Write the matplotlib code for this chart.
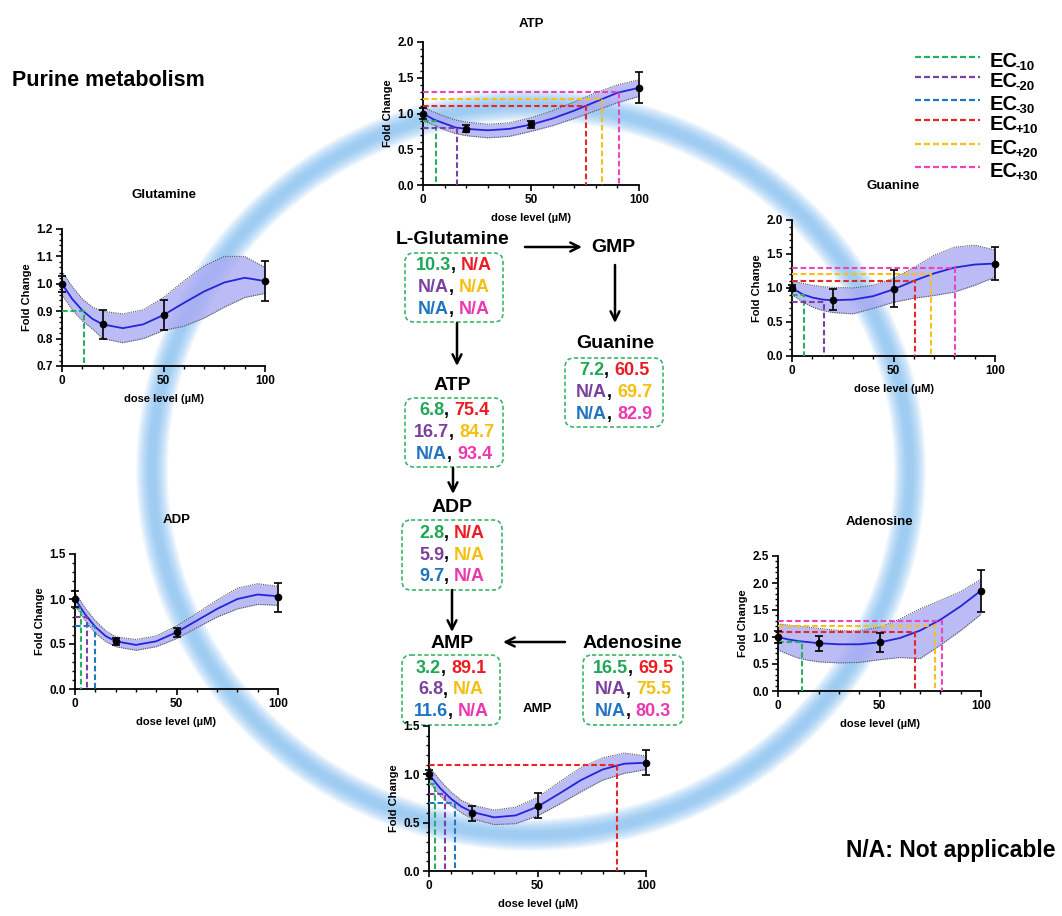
import matplotlib
matplotlib.use("Agg")
import matplotlib.pyplot as plt
from matplotlib.patches import Ellipse, FancyBboxPatch
from matplotlib.offsetbox import TextArea, HPacker, AnnotationBbox
from matplotlib.ticker import MultipleLocator, FormatStrFormatter

plt.rcParams['font.family'] = ['Liberation Sans', 'DejaVu Sans']
plt.rcParams['font.weight'] = 'bold'
plt.rcParams['axes.labelweight'] = 'bold'
plt.rcParams['axes.titleweight'] = 'bold'

# === data ===
dose_points = [0, 20, 50, 100]
dose_grid = [0, 5, 10, 15, 20, 30, 40, 50, 60, 70, 80, 90, 100]

atp_mean = [1.0, 0.786, 0.847, 1.363]
atp_err = [0.08, 0.05, 0.05, 0.22]
atp_fit = [1.0, 0.915, 0.86, 0.805, 0.785, 0.765, 0.785, 0.845, 0.93, 1.04, 1.165, 1.29, 1.36]
atp_lo = [0.90, 0.84, 0.77, 0.72, 0.69, 0.66, 0.68, 0.75, 0.83, 0.93, 1.04, 1.15, 1.24]
atp_hi = [1.09, 1.02, 0.96, 0.91, 0.88, 0.85, 0.87, 0.94, 1.04, 1.16, 1.29, 1.40, 1.47]

glut_mean = [1.0, 0.852, 0.886, 1.01]
glut_err = [0.03, 0.052, 0.055, 0.073]
glut_fit = [1.0, 0.945, 0.903, 0.872, 0.852, 0.838, 0.852, 0.886, 0.93, 0.972, 1.005, 1.022, 1.01]
glut_lo = [0.96, 0.905, 0.865, 0.835, 0.80, 0.785, 0.80, 0.83, 0.845, 0.875, 0.915, 0.95, 0.965]
glut_hi = [1.045, 0.99, 0.945, 0.915, 0.90, 0.89, 0.905, 0.95, 1.01, 1.065, 1.10, 1.10, 1.06]

guan_mean = [1.0, 0.83, 0.99, 1.36]
guan_err = [0.05, 0.15, 0.27, 0.24]
guan_fit = [1.0, 0.91, 0.86, 0.83, 0.82, 0.83, 0.88, 0.98, 1.105, 1.215, 1.30, 1.345, 1.36]
guan_lo = [0.90, 0.80, 0.72, 0.67, 0.64, 0.62, 0.70, 0.79, 0.85, 0.89, 0.94, 1.04, 1.16]
guan_hi = [1.10, 1.07, 1.04, 1.02, 1.01, 1.00, 1.04, 1.14, 1.30, 1.48, 1.60, 1.63, 1.56]

adp_mean = [1.0, 0.53, 0.63, 1.02]
adp_err = [0.09, 0.04, 0.05, 0.16]
adp_fit = [1.0, 0.83, 0.69, 0.59, 0.53, 0.49, 0.53, 0.63, 0.76, 0.89, 1.00, 1.05, 1.03]
adp_lo = [0.93, 0.76, 0.62, 0.53, 0.47, 0.43, 0.47, 0.56, 0.68, 0.80, 0.89, 0.94, 0.93]
adp_hi = [1.07, 0.90, 0.76, 0.65, 0.58, 0.55, 0.59, 0.70, 0.84, 0.99, 1.12, 1.17, 1.14]

ado_mean = [1.0, 0.88, 0.90, 1.86]
ado_err = [0.12, 0.14, 0.17, 0.39]
ado_fit = [1.0, 0.955, 0.925, 0.905, 0.885, 0.865, 0.865, 0.90, 0.98, 1.12, 1.32, 1.57, 1.86]
ado_lo = [0.76, 0.68, 0.61, 0.57, 0.54, 0.52, 0.53, 0.58, 0.62, 0.60, 0.85, 1.12, 1.42]
ado_hi = [1.24, 1.22, 1.20, 1.18, 1.16, 1.12, 1.11, 1.18, 1.33, 1.52, 1.68, 1.84, 2.07]

amp_mean = [1.0, 0.595, 0.675, 1.12]
amp_err = [0.05, 0.075, 0.13, 0.13]
amp_fit = [1.0, 0.86, 0.75, 0.665, 0.61, 0.555, 0.575, 0.665, 0.80, 0.94, 1.05, 1.11, 1.12]
amp_lo = [0.92, 0.78, 0.68, 0.60, 0.54, 0.48, 0.49, 0.57, 0.69, 0.82, 0.94, 1.01, 1.05]
amp_hi = [1.08, 0.94, 0.82, 0.73, 0.68, 0.63, 0.66, 0.76, 0.92, 1.07, 1.17, 1.22, 1.19]

# EC guide lines as drawn in each panel: order -10, -20, -30, +10, +20, +30
ec_labels = ['-10', '-20', '-30', '+10', '+20', '+30']
ec_levels = [0.9, 0.8, 0.7, 1.1, 1.2, 1.3]
ec_colors = ['#27ae60', '#7d3fa5', '#2278c0', '#e8262a', '#f5c118', '#ee44bb']
atp_ec = [6.2, 15.7, None, 75.3, 83.0, 90.7]
glut_ec = [10.7, None, None, None, None, None]
guan_ec = [5.7, 15.9, None, 60.7, 68.4, 80.2]
adp_ec = [2.8, 5.9, 9.7, None, None, None]
ado_ec = [12.0, None, None, 67.5, 77.4, 80.7]
amp_ec = [2.9, 7.2, 12.0, 86.8, None, None]

# EC values printed in the pathway boxes (rows: -10/+10, -20/+20, -30/+30)
glut_box = [('10.3', 'N/A'), ('N/A', 'N/A'), ('N/A', 'N/A')]
guan_box = [('7.2', '60.5'), ('N/A', '69.7'), ('N/A', '82.9')]
atp_box = [('6.8', '75.4'), ('16.7', '84.7'), ('N/A', '93.4')]
adp_box = [('2.8', 'N/A'), ('5.9', 'N/A'), ('9.7', 'N/A')]
amp_box = [('3.2', '89.1'), ('6.8', 'N/A'), ('11.6', 'N/A')]
ado_box = [('16.5', '69.5'), ('N/A', '75.5'), ('N/A', '80.3')]
txt_left = ['#1fa656', '#7b3f9e', '#1f74c0']
txt_right = ['#ed1c24', '#f5bf10', '#ec38b0']

W, H = 1062, 916
fig = plt.figure(figsize=(W / 100, H / 100), dpi=100)

# background axes in pixel coordinates
bg = fig.add_axes([0, 0, 1, 1])
bg.set_xlim(0, W)
bg.set_ylim(H, 0)
bg.axis('off')

# blurred blue ring: many thin-alpha strokes give a soft falloff
for lw_px in range(32, 4, -2):
    bg.add_patch(Ellipse((531, 470), 758, 730, fill=False, ec='#74b9f2',
                         lw=lw_px * 0.72, alpha=0.075))


def panel(rect, title, mean, err, fit, lo, hi, ec, ylim, ymajor, yminor, tpad, fmt='%.1f'):
    x0, x1, yt, yb = rect
    ax = fig.add_axes([x0 / W, 1 - yb / H, (x1 - x0) / W, (yb - yt) / H])
    ax.patch.set_alpha(0)
    ax.fill_between(dose_grid, lo, hi, color='#aaaaf3', alpha=0.8, lw=0, zorder=1)
    ax.plot(dose_grid, lo, ls=(0, (1, 1)), color='#555555', lw=0.8, zorder=2)
    ax.plot(dose_grid, hi, ls=(0, (1, 1)), color='#555555', lw=0.8, zorder=2)
    ax.plot(dose_grid, fit, color='#2424d8', lw=1.3, zorder=3)
    for d, lvl, c in zip(ec, ec_levels, ec_colors):
        if d is None:
            continue
        ax.plot([0, d, d], [lvl, lvl, ylim[0]], color=c, lw=1.5,
                ls=(0, (2.7, 1.4)), zorder=4, clip_on=False)
    eb = ax.errorbar(dose_points, mean, yerr=err, fmt='o', color='black', ms=4.5,
                     capsize=3, elinewidth=1.2, capthick=1.2, zorder=5)
    for art in eb.lines[0:1] + tuple(eb.lines[1]) + tuple(eb.lines[2]):
        art.set_clip_on(False)
    ax.set_xlim(0, 100)
    ax.set_ylim(ylim)
    ax.xaxis.set_major_locator(MultipleLocator(50))
    ax.xaxis.set_minor_locator(MultipleLocator(10))
    ax.yaxis.set_major_locator(MultipleLocator(ymajor))
    ax.yaxis.set_minor_locator(MultipleLocator(yminor))
    ax.yaxis.set_major_formatter(FormatStrFormatter(fmt))
    for s in ['top', 'right']:
        ax.spines[s].set_visible(False)
    for s in ['left', 'bottom']:
        ax.spines[s].set_linewidth(1.3)
    ax.tick_params(which='major', direction='out', length=4, width=1.2, labelsize=8.5, pad=2.5)
    ax.tick_params(which='minor', direction='out', length=2.5, width=1.0)
    ax.set_ylabel('Fold Change', fontsize=8, labelpad=3)
    ax.set_xlabel('dose level (µM)', fontsize=8, labelpad=5)
    ax.set_title(title, fontsize=9.5, pad=tpad)
    return ax


panel((423, 639, 42, 185), 'ATP', atp_mean, atp_err, atp_fit, atp_lo, atp_hi, atp_ec,
      (0, 2.0), 0.5, 0.1, 11)
panel((62, 265, 229, 366), 'Glutamine', glut_mean, glut_err, glut_fit, glut_lo, glut_hi, glut_ec,
      (0.7, 1.2), 0.1, 0.02, 22)
panel((792, 995, 220, 356), 'Guanine', guan_mean, guan_err, guan_fit, guan_lo, guan_hi, guan_ec,
      (0, 2.0), 0.5, 0.1, 22)
panel((75, 278, 554, 689), 'ADP', adp_mean, adp_err, adp_fit, adp_lo, adp_hi, adp_ec,
      (0, 1.5), 0.5, 0.1, 22)
panel((778, 981, 556, 691), 'Adenosine', ado_mean, ado_err, ado_fit, ado_lo, ado_hi, ado_ec,
      (0, 2.5), 0.5, 0.1, 22)
panel((429, 646, 726, 871), 'AMP', amp_mean, amp_err, amp_fit, amp_lo, amp_hi, amp_ec,
      (0, 1.5), 0.5, 0.1, 10)

# === pathway labels and arrows ===
for name, x, y in [('L-Glutamine', 453, 240), ('GMP', 613, 248), ('Guanine', 615, 343),
                   ('ATP', 452, 385), ('ADP', 452, 507), ('AMP', 452, 643),
                   ('Adenosine', 632, 643)]:
    bg.text(x, y, name, fontsize=14, ha='center', va='center', color='black')

for (xs, ys), (xe, ye) in [((525, 247), (582, 247)), ((615, 265), (615, 323)),
                           ((457, 323), (457, 366)), ((453, 468), (453, 494)),
                           ((452, 590), (452, 632)), ((565, 642), (503, 642))]:
    bg.annotate('', xy=(xe, ye), xytext=(xs, ys),
                arrowprops=dict(arrowstyle='->', lw=1.8, color='black', mutation_scale=16,
                                shrinkA=0, shrinkB=0))


def ec_box(x0, x1, y0, y1, rows):
    bg.add_patch(FancyBboxPatch((x0, y0), x1 - x0, y1 - y0,
                                boxstyle='round,pad=0,rounding_size=9', fc='none',
                                ec='#3cb46a', lw=1.2, ls=(0, (2.5, 1.5))))
    cx = (x0 + x1) / 2
    step = (y1 - y0) / 3.2
    for i, (a, b) in enumerate(rows):
        cy = y0 + (y1 - y0) / 2 + (i - 1) * step
        parts = [TextArea(a, textprops=dict(color=txt_left[i], fontsize=13, fontweight='bold')),
                 TextArea(', ', textprops=dict(color='black', fontsize=13, fontweight='bold')),
                 TextArea(b, textprops=dict(color=txt_right[i], fontsize=13, fontweight='bold'))]
        pack = HPacker(children=parts, align='baseline', pad=0, sep=0)
        bg.add_artist(AnnotationBbox(pack, (cx, cy), xycoords='data', frameon=False,
                                     box_alignment=(0.5, 0.5)))


ec_box(405, 503, 253, 322, glut_box)
ec_box(565, 663, 358, 427, guan_box)
ec_box(405, 503, 398, 467, atp_box)
ec_box(402, 502, 520, 590, adp_box)
ec_box(402, 500, 655, 725, amp_box)
ec_box(583, 683, 655, 725, ado_box)

# === legend ===
legend_y = [57, 77, 100, 120, 144, 167]
for y, lab, c in zip(legend_y, ec_labels, ec_colors):
    bg.plot([915, 980], [y, y], color=c, lw=1.6, ls=(0, (2.7, 1.35)))
    bg.text(990, y + 10, 'EC', fontsize=14.5, va='baseline', ha='left')
    bg.text(1016, y + 13, lab, fontsize=9.5, va='baseline', ha='left')

bg.text(12, 80, 'Purine metabolism', fontsize=15.5, va='center', ha='left')
bg.text(1055, 850, 'N/A: Not applicable', fontsize=16.5, va='center', ha='right')

fig.savefig('out.png', dpi=100)
